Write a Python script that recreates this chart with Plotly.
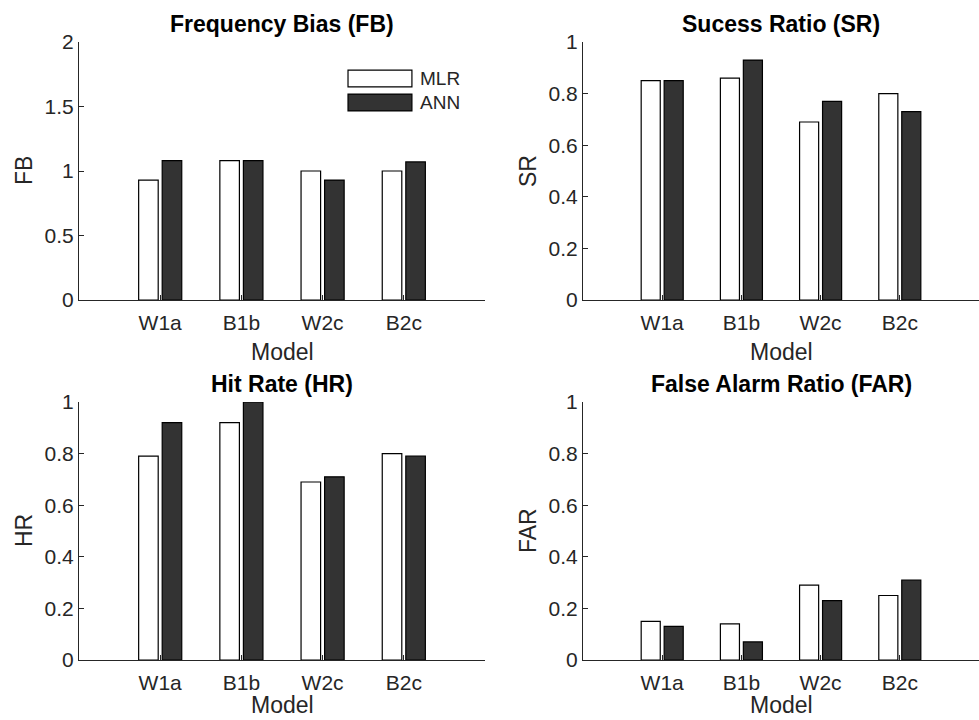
import plotly.graph_objects as go

# ---------------- data ----------------
models = ["W1a", "B1b", "W2c", "B2c"]
series_names = ["MLR", "ANN"]

fb_mlr = [0.93, 1.08, 1.00, 1.00]
fb_ann = [1.08, 1.08, 0.93, 1.07]
sr_mlr = [0.85, 0.86, 0.69, 0.80]
sr_ann = [0.85, 0.93, 0.77, 0.73]
hr_mlr = [0.79, 0.92, 0.69, 0.80]
hr_ann = [0.92, 1.00, 0.71, 0.79]
far_mlr = [0.15, 0.14, 0.29, 0.25]
far_ann = [0.13, 0.07, 0.23, 0.31]

panel_titles = ["Frequency Bias (FB)", "Sucess Ratio (SR)", "Hit Rate (HR)", "False Alarm Ratio (FAR)"]
panel_ylabels = ["FB", "SR", "HR", "FAR"]
panel_ymax = [2, 1, 1, 1]
panel_dtick = [0.5, 0.2, 0.2, 0.2]
x_label = "Model"

panel_data = [(fb_mlr, fb_ann), (sr_mlr, sr_ann), (hr_mlr, hr_ann), (far_mlr, far_ann)]

# ---------------- style ----------------
W, H = 979, 720
FONT = "Liberation Sans, Arial, Helvetica, sans-serif"
AX = "#262626"
fills = ["#ffffff", "#333333"]

xdom = [[79 / W, 485 / W], [583 / W, 1.0]]
ydom = [[1 - 300 / H, 1 - 42 / H], [1 - 660 / H, 1 - 402 / H]]

fig = go.Figure()
annotations = []
shapes = []

for i, (mlr, ann) in enumerate(panel_data):
    k = "" if i == 0 else str(i + 1)
    xa, ya = "x" + k, "y" + k
    for vals, name, fc in zip((mlr, ann), series_names, fills):
        fig.add_trace(go.Bar(
            x=models, y=vals, name=name, xaxis=xa, yaxis=ya,
            marker=dict(color=fc, line=dict(color="#000000", width=1.2)),
            showlegend=False, offsetgroup=name,
        ))
    col, row = i % 2, i // 2
    axis_common = dict(showline=True, linecolor=AX, linewidth=1, ticks="inside",
                       tickcolor=AX, ticklen=5, tickfont=dict(family=FONT, size=21, color=AX),
                       showgrid=False, zeroline=False, automargin=False)
    fig.update_layout(**{
        "xaxis" + k: dict(domain=xdom[col], anchor=ya, type="category",
                          range=[-1, 4], ticklabelstandoff=4, **axis_common),
        "yaxis" + k: dict(domain=ydom[row], anchor=xa, range=[0, panel_ymax[i]],
                          dtick=panel_dtick[i], tick0=0, **axis_common),
    })
    annotations.append(dict(text="<b>" + panel_titles[i] + "</b>", xref=xa + " domain", yref=ya + " domain",
                            x=0.5, y=1, yanchor="middle", yshift=18, showarrow=False,
                            font=dict(family=FONT, size=23, color="#000000")))
    annotations.append(dict(text=x_label, xref=xa + " domain", yref=ya + " domain",
                            x=0.5, y=0, yanchor="middle", yshift=-52 if row == 0 else -45,
                            borderpad=0, showarrow=False, font=dict(family=FONT, size=23, color=AX)))
    annotations.append(dict(text=panel_ylabels[i], xref=xa + " domain", yref=ya + " domain",
                            x=0, y=0.5, xanchor="center", yanchor="middle", xshift=-55,
                            textangle=-90, showarrow=False,
                            font=dict(family=FONT, size=23, color=AX)))

# legend (first panel), MATLAB-style wide swatches
leg_y = [(0.891, 0.826), (0.798, 0.733)]
for (y1, y0), name, fc in zip(leg_y, series_names, fills):
    shapes.append(dict(type="rect", xref="x domain", yref="y domain",
                       x0=0.6626, x1=0.820, y0=y0, y1=y1,
                       fillcolor=fc, line=dict(color="#000000", width=1.2)))
    annotations.append(dict(text=name, xref="x domain", yref="y domain",
                            x=0.835, y=(y0 + y1) / 2, xanchor="left", yanchor="middle",
                            showarrow=False, font=dict(family=FONT, size=19, color=AX)))

fig.update_layout(
    width=W, height=H, margin=dict(l=0, r=0, t=0, b=0, autoexpand=False),
    paper_bgcolor="white", plot_bgcolor="white",
    barmode="group", bargap=0.42, bargroupgap=0.17,
    annotations=annotations, shapes=shapes, showlegend=False,
)

fig.write_html("out.html")
